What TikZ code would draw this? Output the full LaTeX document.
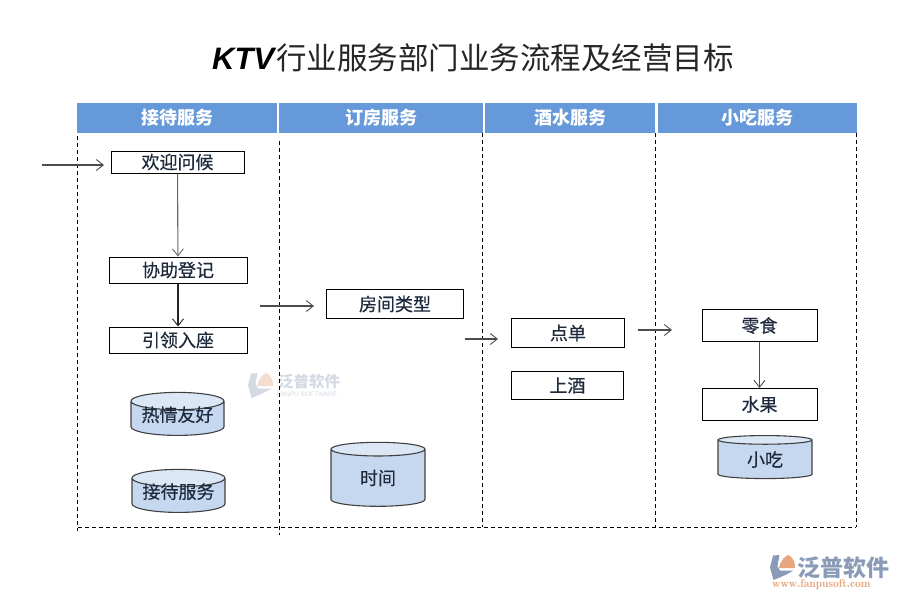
\documentclass[tikz,border=0pt]{standalone}
\usepackage{fontspec}
\setmainfont{Liberation Sans}
\newfontfamily\cjk{Noto Sans CJK SC}
\newfontfamily\cjkm[FakeBold=0.35]{Noto Sans CJK SC}
\usetikzlibrary{shapes.geometric,arrows.meta}
\definecolor{hdr}{HTML}{6699D9}
\definecolor{cylbody}{HTML}{C5D8EF}
\definecolor{cyltop}{HTML}{DCE7F5}
\definecolor{txt}{HTML}{1E2A3C}
\definecolor{logoblue}{HTML}{8A9BB8}
\definecolor{logoorange}{HTML}{E8A67E}
\definecolor{wmblue}{HTML}{D3DAE4}
\definecolor{wmorange}{HTML}{F3DDD0}
\tikzset{
  hdrbox/.style={fill=hdr,text=white,minimum height=30pt,inner sep=0pt,font=\cjk\bfseries\fontsize{18}{18}\selectfont},
  stepbox/.style={draw=black,line width=1pt,fill=white,text=txt,inner sep=0pt,font=\cjkm\fontsize{18}{18}\selectfont},
  cyl/.style={cylinder,shape border rotate=90,draw=black!75,line width=1.1pt,cylinder uses custom fill,
    cylinder body fill=cylbody,cylinder end fill=cyltop,inner sep=0pt,outer sep=0pt,minimum width=#1pt,aspect=0.24,text=txt,font=\cjkm\fontsize{18}{18}\selectfont},
  lane/.style={black,line width=1pt,dash pattern=on 4pt off 3pt},
  flow/.style={-{Straight Barb[length=7pt,width=11pt,line width=0.9pt]},line width=1.1pt,draw=#1},
  flow/.default={black!70}
}
\newcommand{\fanlogo}[5]{% x y size blue orange
  \fill[#4] (#1+.38*#3,#2) -- (#1+.12*#3,#2+.02*#3) -- (#1,#2+.5*#3) -- (#1+.14*#3,#2+#3) -- (#1+.62*#3,#2+.8*#3) -- (#1+.95*#3,#2+.62*#3) -- (#1+.4*#3,#2+.62*#3) -- (#1+.3*#3,#2+.45*#3) -- cycle;
  \fill[#5] (#1+.36*#3,#2+.52*#3) .. controls (#1+.42*#3,#2+.2*#3) and (#1+.62*#3,#2+.02*#3) .. (#1+.75*#3,#2) .. controls (#1+.95*#3,#2+.12*#3) and (#1+1.02*#3,#2+.35*#3) .. (#1+#3,#2+.52*#3) -- cycle;
}
\begin{document}
\begin{tikzpicture}[x=1pt,y=-1pt]
\useasboundingbox (0,0) rectangle (900,600);
% title
\node[anchor=base west,inner sep=0pt,font=\bfseries\itshape\fontsize{31}{31}\selectfont,text=black] (titleA) at (212,69) {KTV};
\node[anchor=base west,inner sep=0pt,font=\cjk\fontsize{30.5}{30.5}\selectfont,text=black!85] (titleB) at (276,69) {行业服务部门业务流程及经营目标};
% watermark
\fanlogo{248}{373}{25}{wmblue}{wmorange}
\node[anchor=west,inner sep=0pt,text=wmblue,font=\cjk\bfseries\fontsize{15.5}{15.5}\selectfont] (wm1) at (278,382) {泛普软件};
\node[anchor=west,inner sep=0pt,text=wmblue,font=\fontsize{6.5}{6.5}\selectfont] (wm2) at (277,394) {FANPU SOFTWARE};
% lanes
\coordinate (l1a) at (77.5,136); \coordinate (l1b) at (77.5,531);
\coordinate (l2a) at (279.5,141); \coordinate (l2b) at (279.5,535);
\coordinate (l3a) at (482.5,133); \coordinate (l3b) at (482.5,527);
\coordinate (l4a) at (655,133); \coordinate (l4b) at (655,527);
\coordinate (l5a) at (856,133); \coordinate (l5b) at (856,527);
\coordinate (ba) at (78,527.5); \coordinate (bb) at (856,527.5);
\draw[lane] (l1a)--(l1b);
\draw[lane] (l2a)--(l2b);
\draw[lane] (l3a)--(l3b);
\draw[lane] (l4a)--(l4b);
\draw[lane] (l5a)--(l5b);
\draw[lane] (ba)--(bb);
% headers
\node[hdrbox,minimum width=200pt] (h1) at (177,118) {接待服务};
\node[hdrbox,minimum width=204pt] (h2) at (381,118) {订房服务};
\node[hdrbox,minimum width=170pt] (h3) at (570,118) {酒水服务};
\node[hdrbox,minimum width=199pt] (h4) at (757.5,118) {小吃服务};
% boxes
\node[stepbox,minimum width=133pt,minimum height=22pt] (welcome) at (177.5,162) {\raisebox{-1pt}{欢迎问候}};
\node[stepbox,minimum width=138pt,minimum height=26pt] (assist) at (178,270) {协助登记};
\node[stepbox,minimum width=138pt,minimum height=26pt] (lead) at (178,340) {引领入座};
\node[stepbox,minimum width=137pt,minimum height=29pt] (room) at (395,304) {房间类型};
\node[stepbox,minimum width=113pt,minimum height=29pt] (order) at (568,333) {点单};
\node[stepbox,minimum width=112pt,minimum height=28pt] (wine) at (567.5,385.5) {上酒};
\node[stepbox,minimum width=115pt,minimum height=32pt] (snack) at (759.5,325.5) {零食};
\node[stepbox,minimum width=115pt,minimum height=32pt] (fruit) at (759.5,404.5) {水果};
% cylinders
\node[cyl=93,minimum height=43pt] (c1) at (177.5,418.5) {\raisebox{-3pt}[0pt][0pt]{热情友好}};
\node[cyl=93,minimum height=43pt] (c2) at (178.5,495.5) {\raisebox{-3pt}[0pt][0pt]{接待服务}};
\node[cyl=94,minimum height=64pt,aspect=0.38] (c3) at (378,478) {时间};
\node[cyl=94,minimum height=43pt] (c4) at (765,459.5) {小吃};
% arrows
\coordinate (in1) at (42,165); \coordinate (in2) at (104,165);
\coordinate (r1) at (260,306); \coordinate (r2) at (314,306);
\coordinate (o1) at (465,339); \coordinate (o2) at (498,339);
\coordinate (s1) at (638,330); \coordinate (s2) at (672,330);
\draw[flow] (in1)--(in2);
\draw[flow=black!60] (welcome)--(assist);
\draw[flow=black!85] (assist)--(lead);
\draw[flow] (r1)--(r2);
\draw[flow] (o1)--(o2);
\draw[flow] (s1)--(s2);
\draw[flow] (snack)--(fruit);
% logo bottom right
\fanlogo{770}{555}{25}{logoblue}{logoorange}
\node[anchor=west,inner sep=0pt,text=logoblue,font=\cjk\bfseries\fontsize{23}{23}\selectfont] (lg1) at (797,568) {泛普软件};
\node[anchor=west,inner sep=0pt,text=logoorange,font=\fontfamily{lmr}\bfseries\fontsize{11.5}{11.5}\selectfont] (lg2) at (772,585) {www.fanpusoft.com};
\end{tikzpicture}
\end{document}
